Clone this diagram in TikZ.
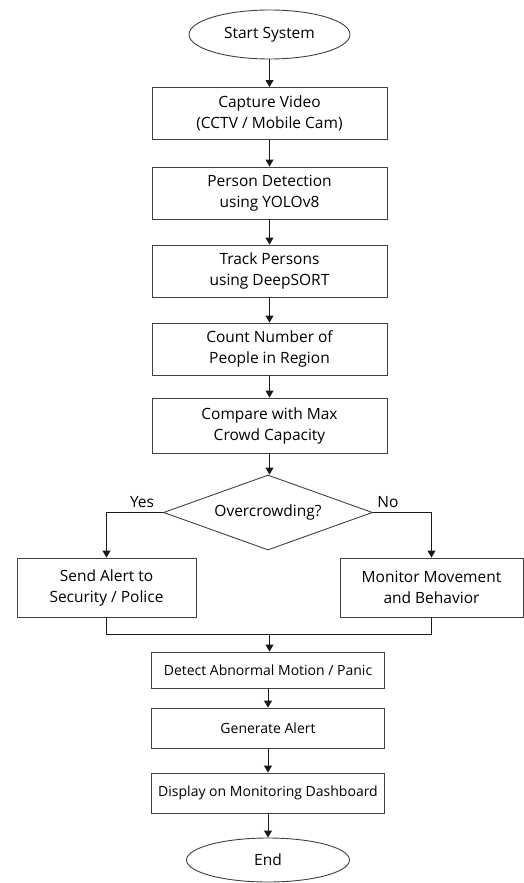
\documentclass[tikz,border=0pt]{standalone}
\usepackage{fontspec}
\setmainfont{Open Sans}
\usetikzlibrary{shapes.geometric,arrows.meta}

\begin{document}
\begin{tikzpicture}[x=1pt,y=-1pt,
    box/.style={rectangle,draw=black!75,line width=0.9pt,align=center,
      font=\fontsize{15.5}{21}\selectfont,inner sep=2pt},
    term/.style={ellipse,draw=black!75,line width=0.9pt,inner sep=0pt,
      font=\fontsize{15.5}{21}\selectfont},
    decision/.style={diamond,draw=black!75,line width=0.9pt,aspect=2.8,
      inner sep=0pt,font=\fontsize{15.5}{21}\selectfont},
    flow/.style={draw=black!90,line width=0.9pt,-{Triangle[width=8pt,length=7pt]}},
    link/.style={draw=black!90,line width=0.9pt}]

      \useasboundingbox (0,0) rectangle (524,883);

      \node[term,minimum width=161pt,minimum height=49pt] (start) at (269.5,34.5) {Start System};

      \begin{scope}[every node/.style={box,minimum width=235pt,minimum height=52pt}]
        \node (capture) at (269.5,113.5) {Capture Video\\(CCTV / Mobile Cam)};
        \node (person)  at (269.5,193)   {Person Detection\\using YOLOv8};
        \node (track)   at (269.5,271)   {Track Persons\\using DeepSORT};
        \node (count)   at (269.5,349)   {Count Number of\\People in Region};
        \node[minimum height=55pt] (compare) at (269.5,425.5) {Compare with Max\\Crowd Capacity};
      \end{scope}

      \node[decision,minimum width=209pt,minimum height=75pt] (crowd) at (268,512.5) {Overcrowding?};
      \node[font=\fontsize{15.5}{21}\selectfont] (yes) at (142,502) {Yes};
      \node[font=\fontsize{15.5}{21}\selectfont] (no)  at (388,502) {No};

      \node[box,minimum width=179pt,minimum height=59pt] (alert)   at (106.5,587.5) {Send Alert to\\Security / Police};
      \node[box,minimum width=183pt,minimum height=59pt] (monitor) at (431.5,587.5) {Monitor Movement\\and Behavior};

      \coordinate (merge) at (269.5,634);

      \begin{scope}[every node/.style={box,minimum width=233pt,minimum height=40pt,
          font=\fontsize{14}{18}\selectfont}]
        \node[minimum height=36pt] (abnormal) at (268,670) {Detect Abnormal Motion / Panic};
        \node (generate) at (268,728) {Generate Alert};
        \node (display)  at (268,793) {Display on Monitoring Dashboard};
      \end{scope}

      \node[term,minimum width=163pt,minimum height=44pt] (end) at (268,860) {End};

      % main column
      \draw[flow] (start) -- (capture);
      \draw[flow] (capture) -- (person);
      \draw[flow] (person) -- (track);
      \draw[flow] (track) -- (count);
      \draw[flow] (count) -- (compare);
      \draw[flow] (compare.south) -- (compare.south |- crowd.north);

      % branches
      \draw[flow] (crowd.west) -| (alert.north);
      \draw[flow] (crowd.east) -| (monitor.north);
      \draw[link] (alert.south) |- (merge);
      \draw[link] (monitor.south) |- (merge);
      \draw[flow] (merge) -- (merge |- abnormal.north);

      % lower column
      \draw[flow] (abnormal) -- (generate);
      \draw[flow] (generate) -- (display);
      \draw[flow] (display) -- (end);

    \end{tikzpicture}
\end{document}
